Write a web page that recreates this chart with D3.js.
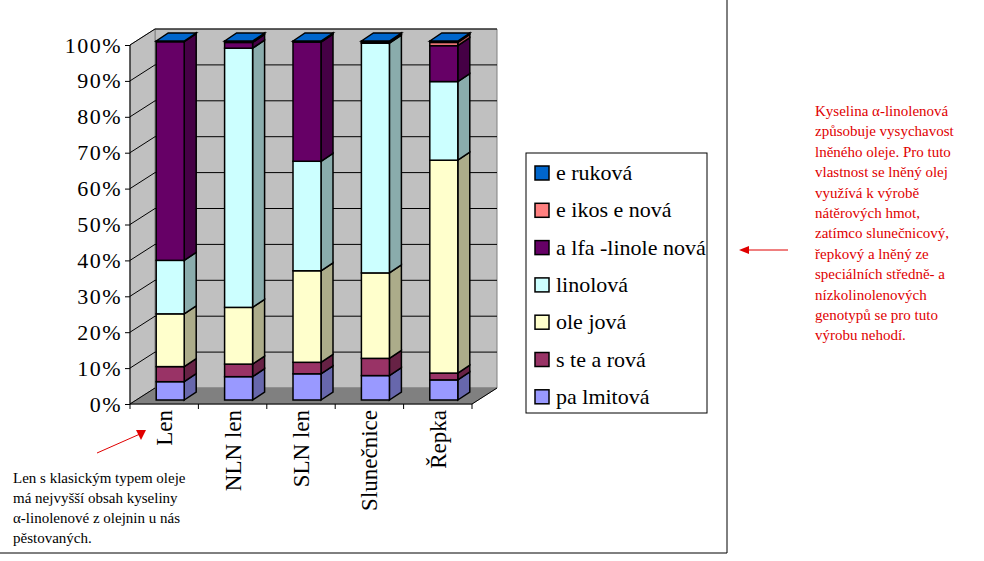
<!DOCTYPE html><html><head><meta charset="utf-8">
<script src="https://cdn.jsdelivr.net/npm/d3@7"></script>
<style>body{margin:0;background:#fff} svg text{font-family:"Liberation Serif","DejaVu Serif",serif !important}</style></head><body>
<svg id="c" width="984" height="561"></svg>
<script>
const categories=["Len","NLN len","SLN len","Slunečnice","Řepka"];
const seriesNames=["palmitová","stearová","olejová","linolová","alfa-linolenová","eikosenová","eruková"];
const palmitova=[5.1,6.5,7.3,6.8,5.6];
const stearova=[4.2,3.5,3.2,4.8,1.9];
const olejova=[14.7,15.8,25.5,23.8,59.3];
const linolova=[14.9,72.2,30.5,64.0,21.9];
const alfa=[60.9,1.6,33.2,0.2,10.0];
const eikosenova=[0,0,0,0,0.9];
const erukova=[0.2,0.4,0.3,0.4,0.4];
const yTicks=[0,10,20,30,40,50,60,70,80,90,100];
const values=[palmitova,stearova,olejova,linolova,alfa,eikosenova,erukova];
const colors=["#9999FF","#993366","#FFFFCC","#CCFFFF","#660066","#FF8080","#0066CC"];
const svg=d3.select("#c");
const serif="Liberation Serif";
svg.append("line").attr("x1",727).attr("x2",727).attr("y1",0).attr("y2",553).attr("stroke","#000");
svg.append("line").attr("x1",0).attr("x2",727).attr("y1",553).attr("y2",553).attr("stroke","#000");
const y=d3.scaleLinear().domain([0,100]).range([404,45]);
const x=d3.scaleBand().domain(categories).range([130,472]);
const D={dx:25,dy:-16};
const g=svg.append("g");
g.append("polygon").attr("points",[[130+D.dx,y(100)+D.dy],[472+D.dx,y(100)+D.dy],[472+D.dx,y(0)+D.dy],[130+D.dx,y(0)+D.dy]].join(" ")).attr("fill","#C0C0C0").attr("stroke","#808080");
g.append("polygon").attr("points",[[130,y(100)],[130+D.dx,y(100)+D.dy],[130+D.dx,y(0)+D.dy],[130,y(0)]].join(" ")).attr("fill","#C0C0C0").attr("stroke","#808080");
g.append("polygon").attr("points",[[130,y(0)],[130+D.dx,y(0)+D.dy],[472+D.dx,y(0)+D.dy],[472,y(0)]].join(" ")).attr("fill","#808080").attr("stroke","#808080");
yTicks.forEach(t=>{
  if(t>0){g.append("line").attr("x1",130+D.dx).attr("x2",472+D.dx).attr("y1",y(t)+D.dy).attr("y2",y(t)+D.dy).attr("stroke","#000");}
  g.append("line").attr("x1",130).attr("x2",130+D.dx).attr("y1",y(t)).attr("y2",y(t)+D.dy).attr("stroke","#000");
});
const ya=d3.axisLeft(y).tickValues(yTicks).tickFormat(d=>d+"%").tickSize(5);
const ax=svg.append("g").attr("transform","translate(130,0)").call(ya);
ax.attr("font-family",serif);
ax.select(".domain").attr("d","M0,"+y(100)+"V"+y(0));
ax.selectAll("text").attr("font-size",22).attr("fill","#000").attr("x",-8).style("letter-spacing","1.5px");
const xa=d3.axisBottom(x).tickSize(5).tickFormat("");
const axx=svg.append("g").attr("transform","translate(0,404)").call(xa);
axx.select(".domain").attr("d","M130,0H472");
axx.selectAll(".tick line").remove();
x.domain().concat([null]).forEach((c,i)=>{const px=c?x(c):472;axx.append("line").attr("x1",px).attr("x2",px).attr("y1",0).attr("y2",5).attr("stroke","#000");});
svg.append("line").attr("x1",472).attr("y1",404).attr("x2",472+D.dx).attr("y2",404+D.dy).attr("stroke","#000");
categories.forEach(c=>{
  svg.append("text").attr("transform",`translate(${x(c)+x.bandwidth()/2+8},410) rotate(-90)`).attr("text-anchor","end")
    .attr("font-family",serif).attr("font-size",23).text(c);
});
const bw=28,bd={dx:12,dy:-8};
const stack=d3.stack().keys(d3.range(7))(categories.map((c,i)=>{const o={};values.forEach((v,k)=>o[k]=v[i]);return o;}));
const dark=c=>d3.color(c).darker(1.1).formatHex();
categories.forEach((c,i)=>{
  const x0=x(c)+x.bandwidth()/2-bw/2+6;
  const bg=svg.append("g");
  let topK=0;
  stack.forEach((s,k)=>{
    const [a,b]=s[i]; if(b-a<=0) return; topK=k;
    const yt=y(b)-4,yb=y(a)-4;
    bg.append("polygon").attr("points",[[x0+bw,yb],[x0+bw+bd.dx,yb+bd.dy],[x0+bw+bd.dx,yt+bd.dy],[x0+bw,yt]].join(" "))
      .attr("fill",dark(colors[k])).attr("stroke","#000").attr("stroke-width",1.5);
    bg.append("rect").attr("x",x0).attr("y",yt).attr("width",bw).attr("height",yb-yt)
      .attr("fill",colors[k]).attr("stroke","#000").attr("stroke-width",1.5);
  });
  const yt=y(100)-4;
  bg.append("polygon").attr("points",[[x0,yt],[x0+bd.dx,yt+bd.dy],[x0+bw+bd.dx,yt+bd.dy],[x0+bw,yt]].join(" "))
    .attr("fill",colors[topK]).attr("stroke","#000").attr("stroke-width",1.5);
});
svg.append("rect").attr("x",526).attr("y",153).attr("width",181).attr("height",260).attr("fill","#fff").attr("stroke","#000");
const legNames=["e ruková","e ikos e nová","a lfa -linole nová","linolová","ole jová","s te a rová","pa lmitová"];
legNames.forEach((n,j)=>{
  const k=6-j, ly=173+j*37.3;
  svg.append("rect").attr("x",535).attr("y",ly-7).attr("width",14).attr("height",14).attr("fill",colors[k]).attr("stroke","#000").attr("stroke-width",1.5);
  svg.append("text").attr("x",556).attr("y",ly+7).attr("font-family",serif).attr("font-size",22).text(n);
});
const red="#e00000";
const t1=["Kyselina α-linolenová","způsobuje vysychavost","lněného oleje. Pro tuto","vlastnost se lněný olej","využívá k výrobě","nátěrových hmot,","zatímco slunečnicový,","řepkový a lněný ze","speciálních středně- a","nízkolinolenových","genotypů se pro tuto","výrobu nehodí."];
t1.forEach((s,i)=>svg.append("text").attr("x",815).attr("y",116+i*20.4).attr("font-family",serif).attr("font-size",15).attr("fill",red).text(s));
svg.append("line").attr("x1",788).attr("y1",250).attr("x2",745).attr("y2",250).attr("stroke",red);
svg.append("polygon").attr("points","739,250 749,246 749,254").attr("fill",red);
const t2=["Len s klasickým typem oleje","má nejvyšší obsah kyseliny","α-linolenové z olejnin u nás","pěstovaných."];
t2.forEach((s,i)=>svg.append("text").attr("x",13).attr("y",483+i*20).attr("font-family",serif).attr("font-size",15).attr("fill","#000").text(s));
svg.append("line").attr("x1",97).attr("y1",453).attr("x2",140).attr("y2",434).attr("stroke",red);
svg.append("polygon").attr("points","146,430 136,430 141,440").attr("fill",red);
</script></body></html>
